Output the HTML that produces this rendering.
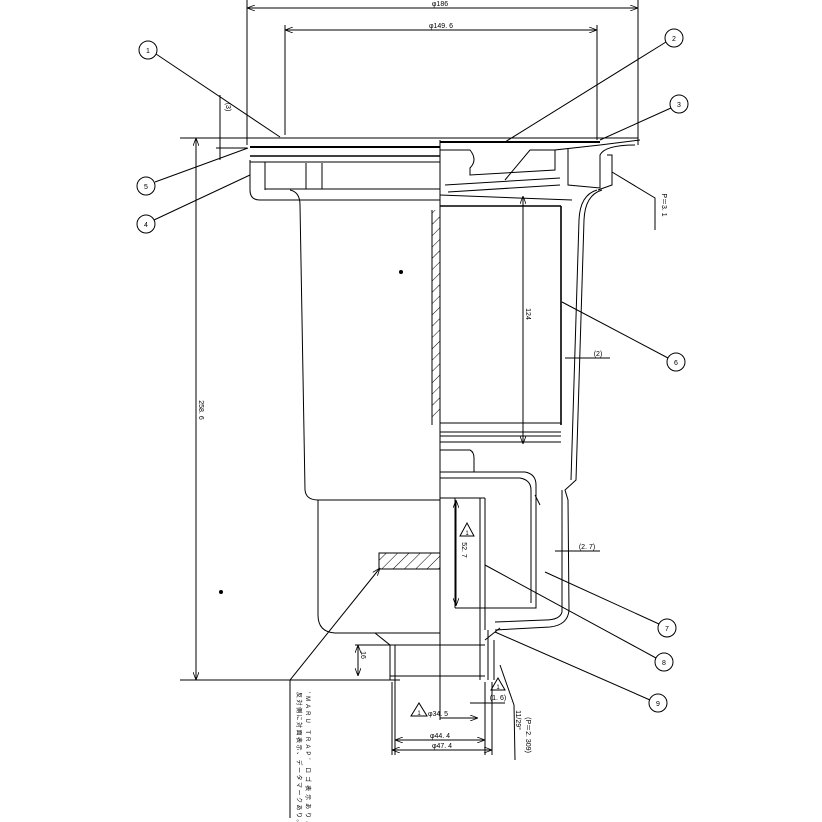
<!DOCTYPE html>
<html><head><meta charset="utf-8"><style>
html,body{margin:0;padding:0;background:#fff}
svg{display:block}
text{font-family:"Liberation Sans","Noto Sans CJK JP",sans-serif;fill:#000}
</style></head><body>
<svg width="822" height="822" viewBox="0 0 822 822" xmlns="http://www.w3.org/2000/svg">
<defs>
<marker id="a" markerWidth="8" markerHeight="6" refX="8" refY="3" orient="auto-start-reverse"><path d="M0,0 L8,3 L0,6" fill="none" stroke="#000" stroke-width="0.8"/></marker>
<pattern id="h" width="8" height="8" patternUnits="userSpaceOnUse" patternTransform="rotate(45)"><line x1="0" y1="0" x2="0" y2="8" stroke="#000" stroke-width="1"/></pattern>
</defs>
<g fill="none" stroke="#000" stroke-width="1">
<line x1="247" y1="0" x2="247" y2="145"/><line x1="638" y1="0" x2="638" y2="145"/>
<line x1="247" y1="8" x2="638" y2="8" marker-start="url(#a)" marker-end="url(#a)"/>
<line x1="285" y1="25" x2="285" y2="135"/><line x1="597" y1="25" x2="597" y2="140"/>
<line x1="285" y1="30" x2="597" y2="30" marker-start="url(#a)" marker-end="url(#a)"/>
<line x1="180" y1="138" x2="247" y2="138"/>
<line x1="180" y1="680" x2="400" y2="680"/>
<line x1="196" y1="138" x2="196" y2="680" marker-start="url(#a)" marker-end="url(#a)"/>
<line x1="220" y1="95" x2="220" y2="160"/><line x1="216" y1="138" x2="247" y2="138"/>
<line x1="216" y1="148" x2="247" y2="148"/>
<line x1="247" y1="138" x2="638" y2="138"/>
<line x1="250" y1="147" x2="440" y2="147" stroke-width="2"/>
<line x1="250" y1="156" x2="440" y2="156" stroke-width="1.6"/>
<path d="M250,160 L250,190 Q250,200 260,200 L440,200"/>
<line x1="250" y1="162" x2="440" y2="162"/>
<line x1="265" y1="162" x2="265" y2="190"/>
<line x1="306" y1="163" x2="306" y2="189"/><line x1="322" y1="163" x2="322" y2="189"/>
<line x1="265" y1="189" x2="440" y2="189"/>
<path d="M290,190 Q300,192 300,205 L305,490 Q306,500 318,500 L440,500"/>
<path d="M318,500 L318,615 Q318,632 335,633 L440,633"/>
<path d="M375,633 L390,645 L390,680"/>
<line x1="390" y1="645" x2="485" y2="645"/>
<line x1="390" y1="676" x2="485" y2="676"/>
<line x1="395" y1="645" x2="395" y2="682"/>
<line x1="440" y1="140" x2="440" y2="720"/>
<line x1="440" y1="142" x2="600" y2="142" stroke-width="2"/>
<path d="M440,150 L470,150 Q478,160 470,168 L470,175 L555,170 L555,150 L600,145"/>
<path d="M505,180 L530,150 L555,150"/>
<line x1="445" y1="185" x2="560" y2="178"/>
<line x1="448" y1="192" x2="560" y2="185"/>
<line x1="440" y1="195" x2="572" y2="200"/>
<path d="M568,148 L568,185 L600,188 L600,155 Q605,145 635,145"/>
<line x1="600" y1="145" x2="640" y2="140"/>
<path d="M607,155 L612,155 L612,185 L598,190"/>
<path d="M602,190 Q585,195 584,220 L576,480 L565,490 L568,500 L569,610 Q568,625 550,627 L495,630"/>
<path d="M597,190 Q580,195 579,220 L571,480"/>
<line x1="562" y1="490" x2="562" y2="612"/>
<path d="M562,612 Q560,620 545,620 L495,622"/>
<line x1="440" y1="206" x2="561" y2="206" stroke-width="1.6"/>
<rect x="432" y="210" width="8" height="210" fill="url(#h)" stroke="none"/>
<line x1="432" y1="210" x2="432" y2="425"/>
<line x1="561" y1="206" x2="561" y2="425" stroke-width="1.6"/>
<line x1="440" y1="423" x2="561" y2="423"/>
<line x1="440" y1="432" x2="561" y2="432"/>
<line x1="440" y1="436" x2="561" y2="436"/>
<line x1="440" y1="442" x2="561" y2="442"/>
<line x1="523" y1="196" x2="523" y2="444" marker-start="url(#a)" marker-end="url(#a)"/>
<path d="M440,450 L470,450 Q474,452 474,458 L474,472"/>
<path d="M440,472 L525,472 Q536,474 536,485 L536,608 L455,608"/>
<path d="M440,478 L520,478 Q531,480 531,490 L531,603"/>
<line x1="455" y1="498" x2="455" y2="608"/>
<line x1="480" y1="498" x2="480" y2="630"/>
<line x1="485" y1="498" x2="485" y2="630"/>
<line x1="440" y1="498" x2="485" y2="498"/>
<line x1="456" y1="500" x2="456" y2="606" marker-start="url(#a)" marker-end="url(#a)"/>
<rect x="379" y="553" width="61" height="16" fill="url(#h)"/>
<line x1="540" y1="505" x2="535" y2="495"/>
<path d="M480,630 L480,680 M488,630 L488,680 M494,640 L494,680"/>
<line x1="485" y1="640" x2="500" y2="628"/>
<line x1="355" y1="645" x2="390" y2="645"/>
<line x1="358" y1="645" x2="358" y2="676" marker-start="url(#a)" marker-end="url(#a)"/>
<line x1="395" y1="682" x2="395" y2="755"/><line x1="392" y1="682" x2="392" y2="755"/>
<line x1="485" y1="682" x2="485" y2="755"/><line x1="492" y1="682" x2="492" y2="755"/>
<line x1="440" y1="718" x2="478" y2="718" marker-end="url(#a)"/>
<line x1="395" y1="740" x2="485" y2="740" marker-start="url(#a)" marker-end="url(#a)"/>
<line x1="392" y1="750" x2="492" y2="750" marker-start="url(#a)" marker-end="url(#a)"/>
<line x1="470" y1="703" x2="505" y2="703"/>
<line x1="565" y1="358" x2="610" y2="358"/>
<line x1="555" y1="551" x2="600" y2="551"/>
<line x1="156" y1="54" x2="280" y2="137"/>
<line x1="666" y1="42" x2="505" y2="142"/>
<line x1="671" y1="108" x2="600" y2="140"/>
<line x1="155" y1="182" x2="248" y2="148"/>
<line x1="154" y1="220" x2="250" y2="175"/>
<line x1="668" y1="358" x2="562" y2="302"/>
<line x1="659" y1="624" x2="545" y2="572"/>
<line x1="656" y1="658" x2="485" y2="565"/>
<line x1="650" y1="700" x2="495" y2="632"/>
<path d="M612,172 L655,198 L655,230"/>
<path d="M380,568 L290,680 L290,818" marker-start="url(#a)"/>
<path d="M514,705 L500,665"/>
<path d="M514,705 L515,760"/>
<circle cx="148" cy="50" r="9"/><circle cx="674" cy="38" r="9"/>
<circle cx="679" cy="104" r="9"/><circle cx="146" cy="186" r="9"/>
<circle cx="146" cy="224" r="9"/><circle cx="676" cy="362" r="9"/>
<circle cx="667" cy="628" r="9"/><circle cx="664" cy="662" r="9"/>
<circle cx="658" cy="703" r="9"/>
<path d="M460,536 L474,536 L467,523 Z"/>
<path d="M411,716 L427,716 L419,703 Z"/>
<path d="M491,690 L505,690 L498,678 Z"/>
</g>
<circle cx="401" cy="272" r="2"/><circle cx="221" cy="592" r="2"/>
<g font-size="7" text-anchor="middle">
<text x="148" y="53">1</text><text x="674" y="41">2</text><text x="679" y="107">3</text>
<text x="146" y="189">5</text><text x="146" y="227">4</text><text x="676" y="365">6</text>
<text x="667" y="631">7</text><text x="664" y="665">8</text><text x="658" y="706">9</text>
<text x="467" y="535" font-size="6">1</text><text x="419" y="715" font-size="6">1</text><text x="498" y="689" font-size="6">1</text>
<text x="440" y="6">φ186</text><text x="441" y="28">φ149. 6</text>
<text x="598" y="356">(2)</text><text x="587" y="549">(2. 7)</text>
<text x="498" y="700">(1. 6)</text>
<text x="438" y="716">φ34. 5</text><text x="440" y="738">φ44. 4</text><text x="442" y="748">φ47. 4</text>
<text transform="translate(226,107) rotate(90)">(3)</text>
<text transform="translate(199,410) rotate(90)">258. 6</text>
<text transform="translate(526,314) rotate(90)">124</text>
<text transform="translate(462,550) rotate(90)">52. 7</text>
<text transform="translate(361,655) rotate(90)">16</text>
<text transform="translate(662,205) rotate(90)">P＝3. 1</text>
<text transform="translate(516,720) rotate(90)">11/29°</text>
<text transform="translate(526,735) rotate(90)">(P＝2. 309)</text>
</g>
<g font-size="6">
<text letter-spacing="3" transform="translate(306,692) rotate(90)">'MARU TRAP' ロゴ表示あり。</text>
<text letter-spacing="1.5" transform="translate(297,692) rotate(90)">反対側に対面表示、データマークあり。</text>
</g>
</svg>
</body></html>
